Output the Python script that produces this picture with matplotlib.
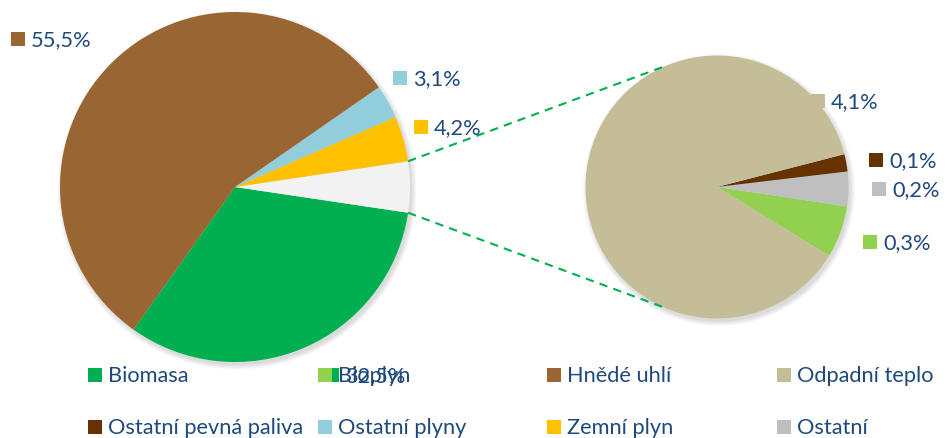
import numpy as np
import matplotlib
matplotlib.use("Agg")
import matplotlib.pyplot as plt
from matplotlib.patches import Circle, Rectangle

plt.rcParams['font.family'] = ['Lato', 'DejaVu Sans']

# ---------------- data ----------------
main_labels = ["Biomasa", "Ostatní (skupina)", "Zemní plyn", "Ostatní plyny", "Hnědé uhlí"]
main_values = [32.5, 4.7, 4.2, 3.1, 55.5]
main_colors = ["#00B050", "#F2F2F2", "#FFC000", "#92CDDC", "#996633"]

sub_labels = ["Bioplyn", "Ostatní", "Ostatní pevná paliva", "Odpadní teplo"]
sub_values = [0.3, 0.2, 0.1, 4.1]
sub_colors = ["#92D050", "#BFBFBF", "#663300", "#C4BD97"]

legend_labels = ["Biomasa", "Bioplyn", "Hnědé uhlí", "Odpadní teplo",
                 "Ostatní pevná paliva", "Ostatní plyny", "Zemní plyn", "Ostatní"]
legend_colors = ["#00B050", "#92D050", "#996633", "#C4BD97",
                 "#663300", "#92CDDC", "#FFC000", "#BFBFBF"]

TEXT = "#1F497D"
W, H = 947, 439

def fmt(v):
    return f"{v:.1f}".replace(".", ",") + "%"

fig = plt.figure(figsize=(W / 100, H / 100), dpi=100)
ax = fig.add_axes([0, 0, 1, 1])

def Y(y):
    return H - y

# layout
c1, r1 = (235, Y(188)), 175
c2, r2 = (717, Y(188)), 131.5

def shadow(c, r):
    for i in range(6):
        ax.add_patch(Circle((c[0] + 2, c[1] - 3), r + i * 0.9, color="black",
                            alpha=0.025, lw=0, zorder=0))

shadow(c1, r1)
shadow(c2, r2)

other_deg = main_values[1] / sum(main_values) * 360
start1 = -(main_values[0] / sum(main_values) * 360 + other_deg / 2)
ax.pie(main_values, colors=main_colors, startangle=start1, counterclock=True,
       center=c1, radius=r1, wedgeprops=dict(linewidth=0), frame=True)
ax.pie(sub_values, colors=sub_colors, startangle=-31.5, counterclock=True,
       center=c2, radius=r2, wedgeprops=dict(linewidth=0), frame=True)

# connector lines
for a1, a2 in [(other_deg / 2, 113), (-other_deg / 2, -113)]:
    p1 = (c1[0] + r1 * np.cos(np.radians(a1)), c1[1] + r1 * np.sin(np.radians(a1)))
    p2 = (c2[0] + r2 * np.cos(np.radians(a2)), c2[1] + r2 * np.sin(np.radians(a2)))
    ax.plot([p1[0], p2[0]], [p1[1], p2[1]], color="#00B050", lw=1.5,
            ls=(0, (4, 3)), zorder=1)

FS = 15.7
SQ = 14

def entry(x, y, color, text, z=3):
    ax.add_patch(Rectangle((x, Y(y) - SQ / 2), SQ, SQ, color=color, lw=0, zorder=z))
    ax.text(x + SQ + 6, Y(y), text, color=TEXT, fontsize=FS, va="center",
            ha="left", zorder=z)

# data labels (layout positions: square-left x, center y)
label_pos_main = {"Biomasa": (325, 376), "Zemní plyn": (414, 128),
                  "Ostatní plyny": (393, 79), "Hnědé uhlí": (11, 40)}
for lab, val, col in zip(main_labels, main_values, main_colors):
    if lab in label_pos_main:
        x, y = label_pos_main[lab]
        entry(x, y, col, fmt(val), z=3)

label_pos_sub = {"Bioplyn": (863, 243), "Ostatní": (872, 190),
                 "Ostatní pevná paliva": (869, 161), "Odpadní teplo": (811, 102)}
for lab, val, col in zip(sub_labels, sub_values, sub_colors):
    x, y = label_pos_sub[lab]
    entry(x, y, col, fmt(val), z=3)

# legend
col_x = [88, 318, 547, 777]
row_y = [376, 428]
for i, (lab, col) in enumerate(zip(legend_labels, legend_colors)):
    entry(col_x[i % 4], row_y[i // 4], col, lab, z=4)

ax.set_xlim(0, W)
ax.set_ylim(0, H)
ax.set_aspect("equal")
ax.axis("off")

fig.savefig("out.png", dpi=100)
